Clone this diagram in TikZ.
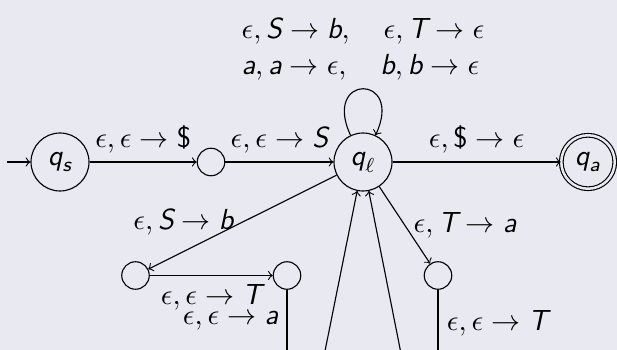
\RequirePackage{fix-cm}
\documentclass[tikz,border=0pt]{standalone}
\usepackage{amsmath}
\usepackage{tikz}
\definecolor{slidelavender}{RGB}{233,233,242}
\newcommand{\sv}[1]{\text{\sffamily\slshape #1}}
\newcommand{\bottom}{\text{\sffamily\$}}

\begin{document}
\begin{tikzpicture}[x=0.4pt, y=0.4pt, line width=0.45pt, >=to,
    font=\fontsize{11.6}{14.4}\selectfont,
    state/.style={circle, draw, minimum size=23.2pt, inner sep=0pt},
    hop/.style={circle, draw, minimum size=11pt, inner sep=0pt},
    accept/.style={state, minimum size=21.4pt, double, double distance=1pt, double=slidelavender}]
  \fill[slidelavender] (0,0) rectangle (617,-350);
  \clip (0,0) rectangle (617,-350);

  \node[state] (qs) at (60,-162) {$\sv{q}_{\sv{s}}$};
  \node[hop] (push) at (211,-162) {};
  \node[state] (ql) at (363,-162) {$\sv{q}_\ell$};
  \node[accept] (qa) at (588,-162) {$\sv{q}_{\sv{a}}$};
  \node[hop] (sb) at (135.5,-275.5) {};
  \node[hop] (sbt) at (287,-275.5) {};
  \node[hop] (ta) at (438,-275.5) {};
  \coordinate (start) at (7,-162);
  \coordinate (lowa) at (287,-540);
  \coordinate (lowb) at (438,-540);

  \draw[->] (start) -- (qs);
  \draw[->] (qs) -- node[above] {$\epsilon, \epsilon \rightarrow \bottom$} (push);
  \draw[->] (push) -- node[above] {$\epsilon, \epsilon \rightarrow \sv{S}$} (ql);
  \draw[->] (ql) -- node[above] {$\epsilon, \bottom \rightarrow \epsilon$} (qa);
  \draw[->] (ql) to[out=115, in=65, looseness=7]
        node[above, align=left] {$\epsilon, \sv{S} \rightarrow \sv{b},\quad \epsilon, \sv{T} \rightarrow \epsilon$\\
                                 $\sv{a}, \sv{a} \rightarrow \epsilon,\quad \sv{b}, \sv{b} \rightarrow \epsilon$} (ql);
  \draw[->] (ql) -- node[left] {$\epsilon, \sv{S} \rightarrow \sv{b}$} (sb);
  \draw[->] (ql) -- node[right] {$\epsilon, \sv{T} \rightarrow \sv{a}$} (ta);
  \draw[->] (sb) -- node[below] {$\epsilon, \epsilon \rightarrow \sv{T}$} (sbt);
  \draw[->] (sbt) -- node[left, pos=0.124] {$\epsilon, \epsilon \rightarrow \sv{a}$} (lowa);
  \draw[->] (ta) -- node[right, pos=0.134] {$\epsilon, \epsilon \rightarrow \sv{T}$} (lowb);
  \draw[->] (lowa) -- (ql);
  \draw[->] (lowb) -- (ql);
\end{tikzpicture}
\end{document}
